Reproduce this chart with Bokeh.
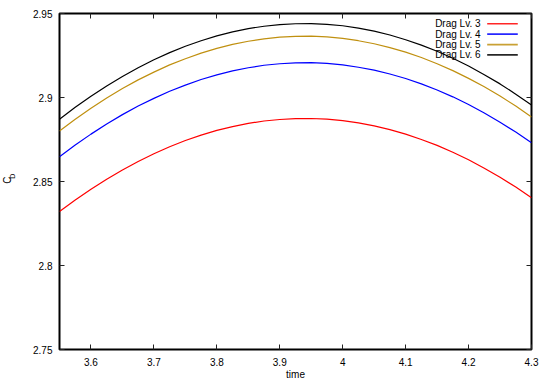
from bokeh.plotting import figure
from bokeh.layouts import row
from bokeh.models import (Range1d, LinearAxis, FixedTicker, CustomJSTickFormatter,
                          Label, BoxAnnotation)
from bokeh.embed import file_html
from bokeh.resources import INLINE
from math import pi

# ---- data ----
time = [3.550, 3.575, 3.600, 3.625, 3.650, 3.675, 3.700, 3.725, 3.750, 3.775,
        3.800, 3.825, 3.850, 3.875, 3.900, 3.925, 3.950, 3.975, 4.000, 4.025,
        4.050, 4.075, 4.100, 4.125, 4.150, 4.175, 4.200, 4.225, 4.250, 4.275,
        4.300]
drag_lv3 = [2.8321, 2.8390, 2.8454, 2.8514, 2.8569, 2.8619, 2.8665, 2.8707,
            2.8744, 2.8776, 2.8804, 2.8827, 2.8846, 2.8860, 2.8869, 2.8874,
            2.8875, 2.8871, 2.8862, 2.8849, 2.8831, 2.8809, 2.8782, 2.8750,
            2.8715, 2.8674, 2.8629, 2.8579, 2.8525, 2.8467, 2.8403]
drag_lv4 = [2.8647, 2.8717, 2.8782, 2.8842, 2.8898, 2.8949, 2.8995, 2.9037,
            2.9074, 2.9107, 2.9135, 2.9158, 2.9177, 2.9192, 2.9201, 2.9206,
            2.9207, 2.9203, 2.9194, 2.9180, 2.9163, 2.9140, 2.9113, 2.9081,
            2.9045, 2.9004, 2.8958, 2.8908, 2.8853, 2.8794, 2.8730]
drag_lv5 = [2.8801, 2.8871, 2.8936, 2.8997, 2.9053, 2.9105, 2.9151, 2.9194,
            2.9231, 2.9264, 2.9292, 2.9316, 2.9335, 2.9349, 2.9359, 2.9364,
            2.9365, 2.9361, 2.9352, 2.9338, 2.9320, 2.9297, 2.9270, 2.9238,
            2.9201, 2.9160, 2.9114, 2.9064, 2.9009, 2.8949, 2.8884]
drag_lv6 = [2.8871, 2.8942, 2.9008, 2.9069, 2.9125, 2.9177, 2.9225, 2.9267,
            2.9305, 2.9338, 2.9367, 2.9391, 2.9410, 2.9424, 2.9434, 2.9439,
            2.9440, 2.9435, 2.9427, 2.9413, 2.9395, 2.9372, 2.9344, 2.9312,
            2.9275, 2.9234, 2.9187, 2.9136, 2.9081, 2.9020, 2.8955]

series_names = ["Drag Lv. 3", "Drag Lv. 4", "Drag Lv. 5", "Drag Lv. 6"]
series_values = [drag_lv3, drag_lv4, drag_lv5, drag_lv6]
series_colors = ["#ff0000", "#0000ff", "#c09010", "#000000"]

x_ticks = [3.6, 3.7, 3.8, 3.9, 4.0, 4.1, 4.2, 4.3]
x_tick_labels = ["3.6", "3.7", "3.8", "3.9", "4", "4.1", "4.2", "4.3"]
y_ticks = [2.75, 2.8, 2.85, 2.9, 2.95]
y_tick_labels = ["2.75", "2.8", "2.85", "2.9", "2.95"]

FONT = "Liberation Sans"
LABEL_W = 20  # width of the narrow strip that carries the rotated y label

p = figure(width=550 - LABEL_W, height=385, output_backend="svg", toolbar_location=None,
           x_range=Range1d(3.55, 4.3), y_range=Range1d(2.75, 2.95),
           min_border_left=59 - LABEL_W, min_border_right=19, min_border_top=13,
           min_border_bottom=36, x_axis_label="time")
p.xgrid.visible = False
p.ygrid.visible = False
p.outline_line_color = "black"
p.outline_line_width = 2
p.background_fill_color = "white"
p.border_fill_color = "white"

def fmt(ticks, labels):
    return CustomJSTickFormatter(args=dict(t=ticks, l=labels), code="""
        for (let i = 0; i < t.length; i++) { if (Math.abs(t[i] - tick) < 1e-9) return l[i]; }
        return '';""")

def style(ax, ticks, labels):
    ax.ticker = FixedTicker(ticks=ticks)
    ax.formatter = fmt(ticks, labels)
    ax.axis_line_color = None
    ax.major_tick_in = 5
    ax.major_tick_out = 0
    ax.minor_tick_line_color = None
    ax.major_tick_line_color = "#222222"
    ax.major_tick_line_width = 1
    ax.major_label_text_font = FONT
    ax.major_label_text_font_size = "10px"
    ax.major_label_text_color = "black"
    ax.axis_label_text_font = FONT
    ax.axis_label_text_font_size = "10px"
    ax.axis_label_text_font_style = "normal"
    ax.axis_label_text_color = "black"

style(p.xaxis[0], x_ticks, x_tick_labels)
p.xaxis[0].major_label_standoff = 8
p.xaxis[0].axis_label_standoff = 0
style(p.yaxis[0], y_ticks, y_tick_labels)
p.yaxis[0].major_label_standoff = 7

# mirrored ticks (no labels) on top and right
top = LinearAxis()
style(top, x_ticks, ["" for _ in x_ticks])
top.major_label_standoff = 0
p.add_layout(top, "above")
right = LinearAxis()
style(right, y_ticks, ["" for _ in y_ticks])
right.major_label_standoff = 0
p.add_layout(right, "right")

for vals, col in zip(series_values, series_colors):
    p.line(time, vals, line_color=col, line_width=1.2)

# legend (gnuplot style: text then line sample, top right)
leg_text_x = 4.219
leg_line_x0, leg_line_x1 = 4.2296, 4.2782
leg_rows = [2.9439, 2.9377, 2.9315, 2.9254]
for name, col, yv in zip(series_names, series_colors, leg_rows):
    p.add_layout(Label(x=leg_text_x, y=yv, text=name, text_align="right",
                       text_baseline="middle", text_font=FONT, text_font_size="10px",
                       text_color="black"))
    p.add_layout(BoxAnnotation(left=leg_line_x0, right=leg_line_x1,
                               bottom=yv - 0.0005, top=yv + 0.0005,
                               fill_color=col, fill_alpha=0.85, line_color=None))

# narrow strip on the left holding the y-axis label C_D (rotated, with subscript)
q = figure(width=LABEL_W, height=385, output_backend="svg", toolbar_location=None,
           x_range=Range1d(0, LABEL_W), y_range=Range1d(385, 0), min_border=0,
           x_axis_type=None, y_axis_type=None)
q.outline_line_color = None
q.grid.visible = False
q.background_fill_color = "white"
q.border_fill_color = "white"
q.add_layout(Label(x=6.5, y=191, text="C", angle=pi/2, text_align="center",
                   text_baseline="middle", text_font=FONT, text_font_size="10px",
                   text_color="black"))
q.add_layout(Label(x=12, y=186.5, text="D", angle=pi/2, text_align="center",
                   text_baseline="middle", text_font=FONT, text_font_size="7px",
                   text_color="black"))

layout = row(q, p, spacing=0)
open("out.html", "w").write(file_html(layout, INLINE))
